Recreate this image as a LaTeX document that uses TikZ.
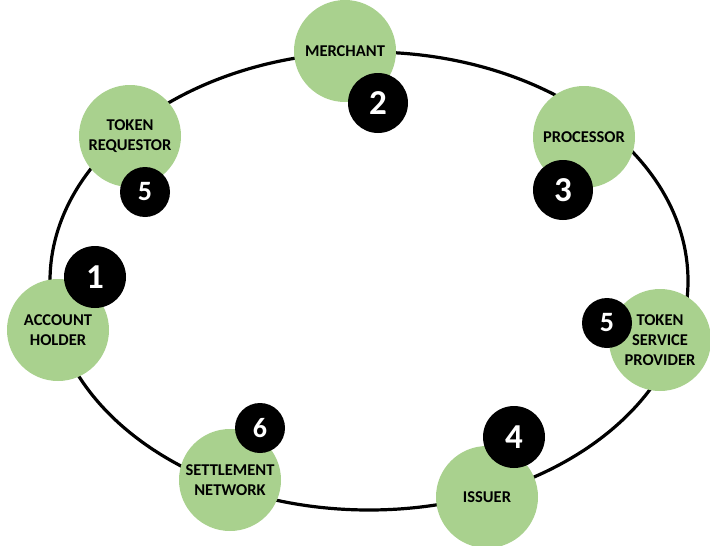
\documentclass[tikz,border=0pt]{standalone}
\usepackage{fontspec}
\setmainfont{Carlito}
\definecolor{nodegreen}{HTML}{A9D18E}
\tikzset{
  party/.style={circle, fill=nodegreen, minimum size=102pt, inner sep=0pt, align=center,
     font=\bfseries\fontsize{16.5}{20}\selectfont, text=black},
  bignum/.style={circle, fill=black, inner sep=0pt, text=white, minimum size=62pt,
     font=\bfseries\fontsize{35}{35}\selectfont},
  smallnum/.style={circle, fill=black, inner sep=0pt, text=white, minimum size=50pt,
     font=\bfseries\fontsize{28}{28}\selectfont},
  ring/.style={line width=3.2pt, draw=black}
}
\begin{document}
\begin{tikzpicture}[x=1pt,y=-1pt]
\useasboundingbox (0,0) rectangle (710,546);
\draw[ring] (369,281) ellipse [x radius=319pt, y radius=229pt];
\node[party] (merchant) at (345,51) {MERCHANT};
\node[party] (requestor) at (130,136) {TOKEN\\REQUESTOR};
\node[party] (holder) at (58,330) {ACCOUNT\\HOLDER};
\node[party] (processor) at (584,137) {PROCESSOR};
\node[party] (tsp) at (660,340) {TOKEN\\SERVICE\\PROVIDER};
\node[party] (settlement) at (230,480) {SETTLEMENT\\NETWORK};
\node[party] (issuer) at (487,497) {ISSUER};
\node[bignum] (n1) at (95,277) {1};
\node[bignum, minimum size=60pt] (n2) at (378,103) {2};
\node[bignum, minimum size=60pt] (n3) at (563,190) {3};
\node[bignum] (n4) at (514,437) {4};
\node[smallnum] (n5a) at (145,192) {5};
\node[smallnum] (n5b) at (607,323) {5};
\node[smallnum] (n6) at (260,428) {6};
\end{tikzpicture}
\end{document}
